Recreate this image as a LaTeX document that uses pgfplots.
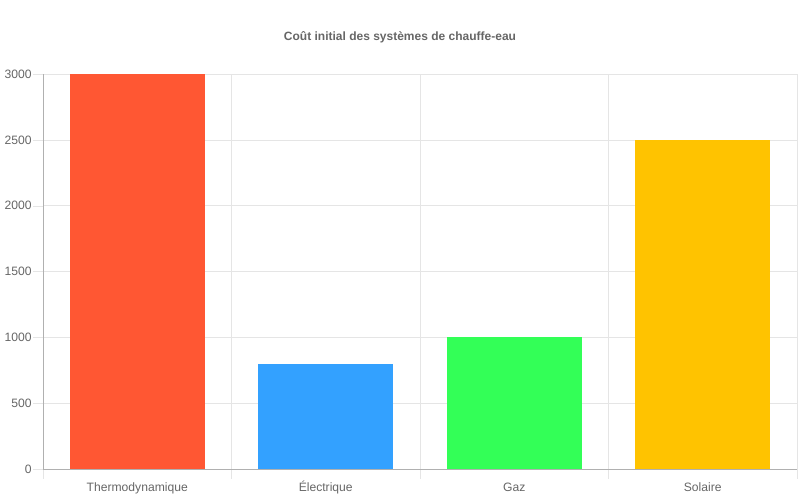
\documentclass[border=0pt]{standalone}
\usepackage{fontspec}
\setmainfont{Liberation Sans}
\usepackage{pgfplots}
\pgfplotsset{compat=1.18}
\definecolor{cRed}{HTML}{FF5733}
\definecolor{cBlue}{HTML}{33A1FF}
\definecolor{cGreen}{HTML}{33FF57}
\definecolor{cYellow}{HTML}{FFC300}
\definecolor{txt}{HTML}{666666}
\definecolor{gridc}{HTML}{E5E5E5}
\definecolor{axc}{HTML}{B0B0B0}
\begin{document}
\begin{tikzpicture}
\useasboundingbox (0,0) rectangle (600pt,375pt);
\node[font=\bfseries\fontsize{9}{11}\selectfont, text=txt] at (300pt,347.25pt) {Coût initial des systèmes de chauffe-eau};
\begin{axis}[
  at={(32.25pt,23.25pt)}, anchor=south west,
  scale only axis, width=565.5pt, height=296.25pt,
  xmin=-0.5, xmax=3.5, ymin=0, ymax=3000,
  axis lines*=left,
  axis line style={axc},
  ybar, bar width=0.717, bar shift=0pt,
  xtick={-0.5,0.5,1.5,2.5,3.5},
  xticklabels={},
  xmajorgrids,
  extra x ticks={0,1,2,3},
  extra x tick labels={Thermodynamique,Électrique,Gaz,Solaire},
  extra x tick style={grid=none, major tick length=0pt,
     xticklabel style={anchor=base, yshift=-16.75pt}},
  ytick={0,500,1000,1500,2000,2500,3000},
  ymajorgrids,
  grid style={gridc},
  tick align=outside,
  tick style={gridc},
  major tick length=7.5pt,
  tick label style={font=\fontsize{9.1}{11}\selectfont, text=txt},
  yticklabel style={xshift=2.5pt},
  /pgf/number format/1000 sep={},
  /pgf/number format/assume math mode=true,
]
\addplot[fill=cRed, draw=none] coordinates {(0,3000)};
\addplot[fill=cBlue, draw=none] coordinates {(1,800)};
\addplot[fill=cGreen, draw=none] coordinates {(2,1000)};
\addplot[fill=cYellow, draw=none] coordinates {(3,2500)};
\end{axis}
\end{tikzpicture}
\end{document}
